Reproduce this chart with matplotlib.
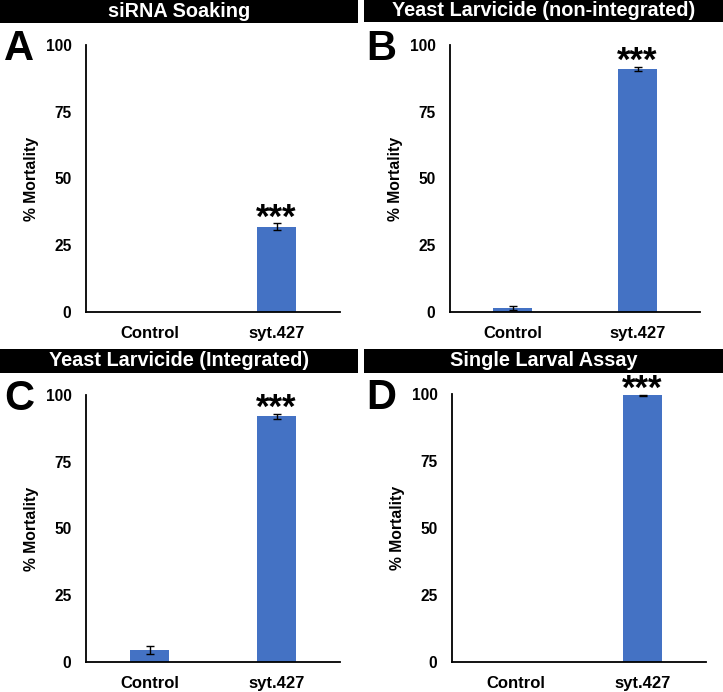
import matplotlib
matplotlib.use("Agg")
import matplotlib.pyplot as plt
from matplotlib.patches import Rectangle

plt.rcParams["font.family"] = ["Liberation Sans", "DejaVu Sans"]
plt.rcParams["font.weight"] = "bold"

# data
categories = ["Control", "syt.427"]
titles = ["siRNA Soaking", "Yeast Larvicide (non-integrated)",
          "Yeast Larvicide (Integrated)", "Single Larval Assay"]
letters = ["A", "B", "C", "D"]
mortality_a = [0, 32]
error_a = [0, 1.2]
mortality_b = [1.5, 91]
error_b = [0.7, 0.8]
mortality_c = [4.5, 92]
error_c = [1.5, 1.0]
mortality_d = [0, 99.5]
error_d = [0, 0.3]
yticks = [0, 25, 50, 75, 100]
stars = "***"

W, H = 723, 692
bar_color = "#4472C4"

fig = plt.figure(figsize=(W / 100, H / 100), dpi=100)


def px_box(x0, y0, x1, y1):
    # pixel box (top-left origin) -> figure fraction [left, bottom, w, h]
    return [x0 / W, 1 - y1 / H, (x1 - x0) / W, (y1 - y0) / H]


panels = [
    (mortality_a, error_a, (86, 45, 340, 312), (0, 0, 358, 23)),
    (mortality_b, error_b, (450, 45, 700, 312), (364, 0, 723, 22)),
    (mortality_c, error_c, (86, 395, 340, 662), (0, 349, 358, 373)),
    (mortality_d, error_d, (452, 394, 706, 662), (364, 349, 723, 373)),
]

for i, (vals, errs, ax_px, bar_px) in enumerate(panels):
    ax = fig.add_axes(px_box(*ax_px))
    x = list(range(len(categories)))
    ax.bar(x, vals, width=0.31, color=bar_color, zorder=2)
    # only draw error bars where there is an error
    ex = [xi for xi, e in zip(x, errs) if e > 0]
    ev = [v for v, e in zip(vals, errs) if e > 0]
    ee = [e for e in errs if e > 0]
    ax.errorbar(ex, ev, yerr=ee, fmt="none", ecolor="black",
                elinewidth=1.0, capsize=3, capthick=1.0, zorder=3)
    ax.set_xlim(-0.5, 1.5)
    ax.set_ylim(0, 100)
    ax.set_yticks(yticks)
    ax.set_xticks(x)
    ax.set_xticklabels(categories)
    ax.tick_params(length=0)
    ax.tick_params(axis="y", pad=10.5, labelsize=11.2)
    ax.tick_params(axis="x", pad=10, labelsize=12)
    for lab in ax.get_xticklabels() + ax.get_yticklabels():
        lab.set_fontweight("bold")
    ax.spines["top"].set_visible(False)
    ax.spines["right"].set_visible(False)
    ax.spines["left"].set_linewidth(1.3)
    ax.spines["bottom"].set_linewidth(1.3)
    ax.set_ylabel("% Mortality", fontsize=11.3, fontweight="bold", labelpad=5)

    # significance stars above the treated bar
    ax.annotate(stars, xy=(1, vals[1] + errs[1]), xytext=(0, -8),
                textcoords="offset points", ha="center", va="bottom",
                fontsize=25, fontweight="bold", annotation_clip=False)

    # black title strip
    l, b, w, h = px_box(*bar_px)
    fig.patches.append(Rectangle((l, b), w, h, transform=fig.transFigure,
                                 facecolor="black", edgecolor="none"))
    fig.text(l + w / 2, b + h / 2, titles[i], color="white", fontsize=14.3,
             fontweight="bold", ha="center", va="center")

    # panel letter
    lx = 4 if i % 2 == 0 else 366
    ly = ax_px[1] - 16
    fig.text(lx / W, 1 - ly / H, letters[i], fontsize=30, fontweight="bold",
             ha="left", va="top")

fig.savefig("out.png", dpi=100)
